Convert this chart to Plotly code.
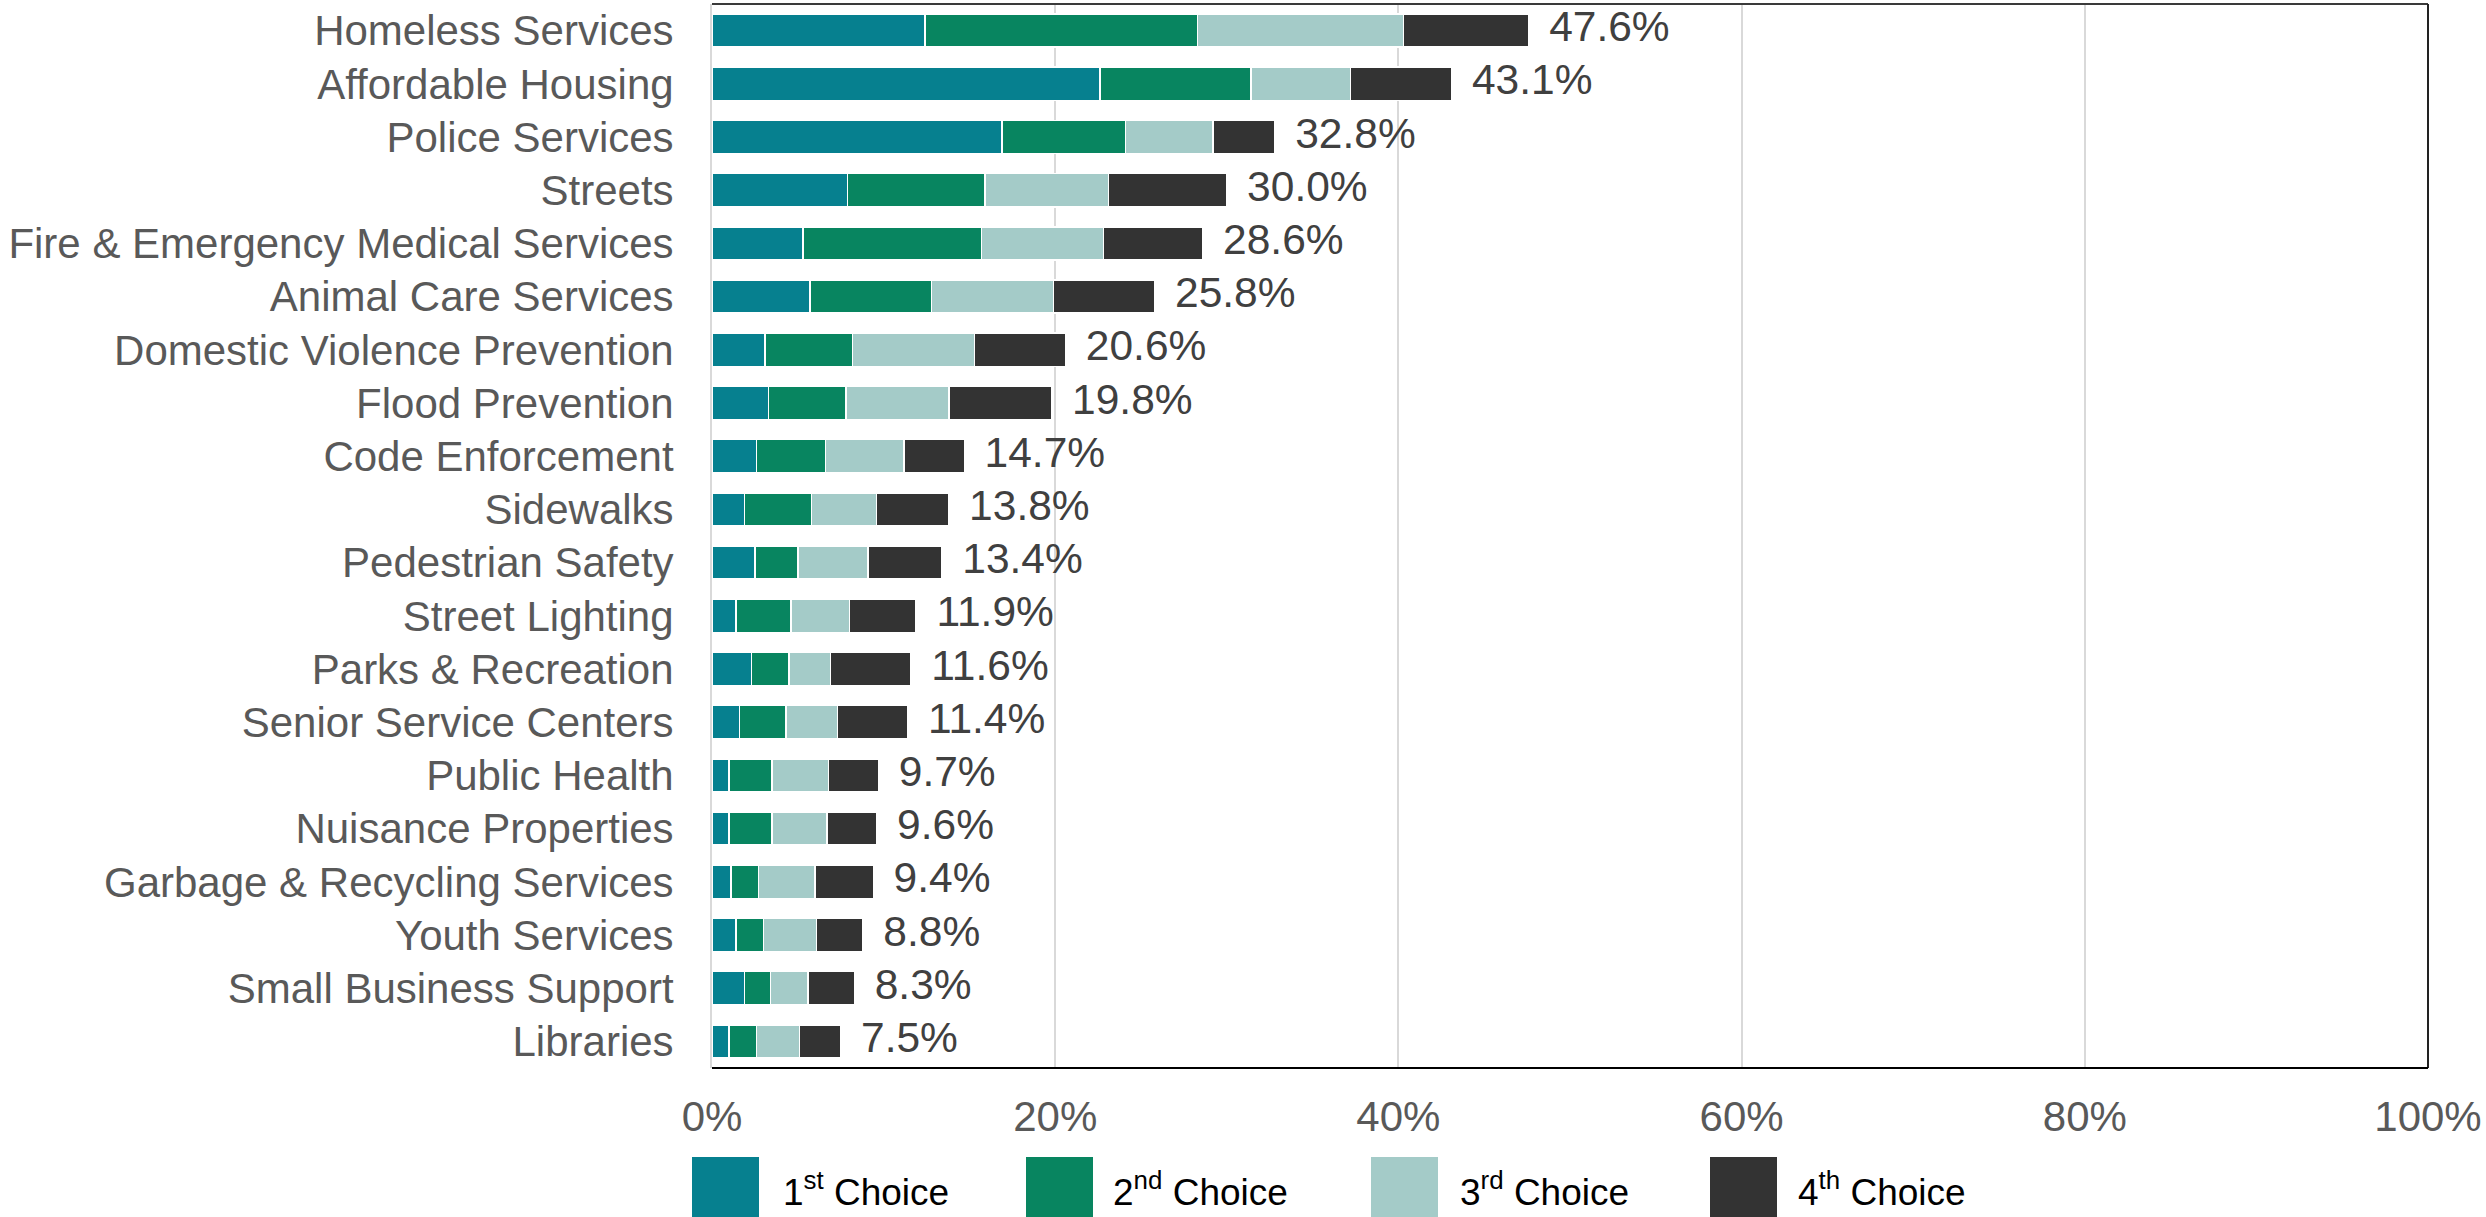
import plotly.graph_objects as go

categories = [
    "Homeless Services", "Affordable Housing", "Police Services", "Streets",
    "Fire & Emergency Medical Services", "Animal Care Services",
    "Domestic Violence Prevention", "Flood Prevention", "Code Enforcement",
    "Sidewalks", "Pedestrian Safety", "Street Lighting", "Parks & Recreation",
    "Senior Service Centers", "Public Health", "Nuisance Properties",
    "Garbage & Recycling Services", "Youth Services", "Small Business Support",
    "Libraries",
]
first_choice = [12.4, 22.6, 16.9, 7.9, 5.3, 5.7, 3.1, 3.3, 2.6, 1.9, 2.5, 1.4, 2.3, 1.6, 1.0, 1.0, 1.1, 1.4, 1.9, 1.0]
second_choice = [15.9, 8.8, 7.2, 8.0, 10.4, 7.1, 5.1, 4.5, 4.0, 3.9, 2.5, 3.2, 2.2, 2.7, 2.5, 2.5, 1.6, 1.6, 1.5, 1.6]
third_choice = [12.0, 5.8, 5.1, 7.2, 7.1, 7.1, 7.1, 6.0, 4.6, 3.8, 4.1, 3.4, 2.4, 3.0, 3.3, 3.2, 3.3, 3.1, 2.2, 2.5]
fourth_choice = [7.3, 5.9, 3.6, 6.9, 5.8, 5.9, 5.3, 6.0, 3.5, 4.2, 4.3, 3.9, 4.7, 4.1, 2.9, 2.9, 3.4, 2.7, 2.7, 2.4]
series_names = ["1st Choice", "2nd Choice", "3rd Choice", "4th Choice"]
legend_labels = ["1<sup>st</sup> Choice", "2<sup>nd</sup> Choice", "3<sup>rd</sup> Choice", "4<sup>th</sup> Choice"]
x_tickvals = [0, 20, 40, 60, 80, 100]
x_ticktext = ["0%", "20%", "40%", "60%", "80%", "100%"]

colors = ["#06808F", "#088560", "#A4CBC8", "#333333"]
FONT = "Liberation Sans, Arial, sans-serif"

W, H = 2486, 1217
PL, PR, PT, PB = 712, 2428, 4, 1068  # plot area in pixels

series = [first_choice, second_choice, third_choice, fourth_choice]
totals = [round(sum(v), 1) for v in zip(*series)]

fig = go.Figure()
for name, vals, col in zip(series_names, series, colors):
    fig.add_trace(go.Bar(
        y=categories, x=vals, name=name, orientation="h",
        marker=dict(color=col, line=dict(color="white", width=1.5)),
        showlegend=False, hoverinfo="x+y+name",
    ))

fig.add_trace(go.Scatter(
    y=categories, x=totals, mode="text",
    text=[" \u2009%.1f%%" % t for t in totals],
    textposition="middle right",
    textfont=dict(family=FONT, size=42.5, color="#404040"),
    showlegend=False, hoverinfo="skip", cliponaxis=False,
))

def px_x(p):
    return (p - PL) / (PR - PL)

def px_y(p):
    return (PB - p) / (PB - PT)

shapes = [
    dict(type="line", xref="paper", yref="paper", x0=0, x1=1, y0=1, y1=1,
         line=dict(color="#3a3a3a", width=2)),
    dict(type="line", xref="paper", yref="paper", x0=1, x1=1, y0=0, y1=1,
         line=dict(color="#222222", width=2)),
    dict(type="line", xref="paper", yref="paper", x0=0, x1=1, y0=0, y1=0,
         line=dict(color="#000000", width=2)),
]
annotations = []
swatch_left = [692, 1026, 1371, 1710]
text_left = [781, 1111, 1458, 1796]
for i in range(4):
    shapes.append(dict(
        type="rect", xref="paper", yref="paper",
        x0=px_x(swatch_left[i]), x1=px_x(swatch_left[i] + 67),
        y0=px_y(1157), y1=px_y(1220),
        fillcolor=colors[i], line=dict(width=0), layer="above",
    ))
    annotations.append(dict(
        xref="paper", yref="paper", x=px_x(text_left[i]), y=px_y(1189),
        xanchor="left", yanchor="middle", showarrow=False,
        text=legend_labels[i],
        font=dict(family=FONT, size=37, color="#000000"),
    ))

n = len(categories)
fig.update_layout(
    width=W, height=H,
    barmode="stack", bargap=0.375,
    plot_bgcolor="white", paper_bgcolor="white",
    margin=dict(l=PL, r=W - PR, t=PT, b=H - PB, autoexpand=False),
    font=dict(family=FONT),
    shapes=shapes, annotations=annotations,
    xaxis=dict(
        range=[0, 100], tickvals=x_tickvals, ticktext=x_ticktext,
        showgrid=True, gridcolor="#D9D9D9", gridwidth=2,
        zeroline=False, showline=False, ticks="",
        tickfont=dict(family=FONT, size=42, color="#595959"),
        ticklabelstandoff=20, fixedrange=True,
    ),
    yaxis=dict(
        categoryorder="array", categoryarray=categories,
        range=[n - 0.5, -0.5], autorange=False,
        showgrid=False, zeroline=False,
        showline=True, linecolor="#D9D9D9", linewidth=2,
        ticks="", ticklabelstandoff=28,
        tickfont=dict(family=FONT, size=42, color="#595959"),
        fixedrange=True,
    ),
)

fig.write_html("out.html", config={"displayModeBar": False},
               post_script="document.body.style.margin='0px';")
